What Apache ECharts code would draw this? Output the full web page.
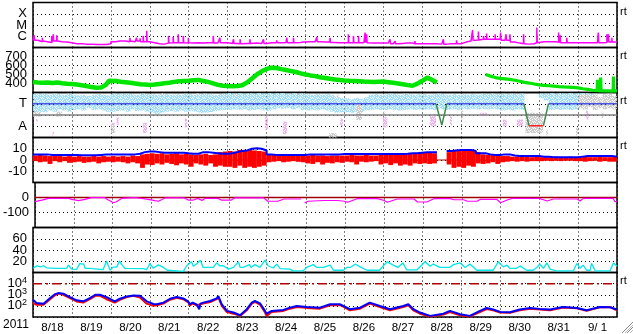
<!DOCTYPE html>
<html><head><meta charset="utf-8">
<script src="https://cdn.jsdelivr.net/npm/echarts@6/dist/echarts.min.js"></script>
<style>html,body{margin:0;padding:0;background:#fff}#c{width:633px;height:334px}</style>
</head><body><div id="c"></div>
<script>
// ---------- DATA (time in days since 2011-08-18 00:00) ----------
const dayLabels = ['8/18','8/19','8/20','8/21','8/22','8/23','8/24','8/25','8/26','8/27','8/28','8/29','8/30','8/31','9/ 1'];
const yearLabel = '2011';

// X-ray flux (log10 W/m2), 3-hour baseline + short flares
const xrayBase = [
-6.36,-6.49,-6.43,-6.55,-6.43,-6.49,-6.52,-6.58,
-6.67,-6.67,-6.7,-6.7,-6.73,-6.73,-6.73,-6.67,
-6.49,-6.43,-6.43,-6.49,-6.43,-6.43,-6.49,-6.49,
-6.58,-6.67,-6.7,-6.61,-6.58,-6.58,-6.58,-6.61,
-6.58,-6.58,-6.61,-6.58,-6.58,-6.61,-6.58,-6.58,
-6.64,-6.64,-6.67,-6.64,-6.64,-6.61,-6.64,-6.64,
-6.58,-6.58,-6.58,-6.55,-6.58,-6.58,-6.55,-6.52,
-6.49,-6.49,-6.49,-6.52,-6.52,-6.55,-6.58,-6.58,
-6.58,-6.58,-6.58,-6.58,-6.58,-6.61,-6.61,-6.61,
-6.61,-6.67,-6.67,-6.64,-6.61,-6.61,-6.67,-6.67,
-6.67,-6.67,-6.67,-6.7,-6.7,-6.67,-6.67,-6.67,
-6.52,-6.43,-6.36,-6.34,-6.27,-6.27,-6.27,-6.27,
-6.36,-6.36,-6.52,-6.61,-6.67,-6.7,-6.67,-6.58,
-6.49,-6.49,-6.49,-6.52,-6.58,-6.58,-6.58,-6.58,
-6.58,-6.58,-6.58,-6.58,-6.58,-6.55,-6.52,-6.52];
const xrayFlares = [
[0.03,-5.91],[0.24,-6.13],[0.48,-5.97],[0.52,-5.82],[0.61,-5.91],[2.23,-6.27],[2.49,-6.13],[2.66,-6.13],
[2.75,-6.18],[2.83,-5.97],[2.92,-5.52],[3.48,-5.97],[3.6,-6.06],[3.73,-5.82],[3.86,-5.97],[3.99,-6.13],
[4.63,-5.97],[4.8,-6.13],[5.15,-6.27],[5.32,-6.27],[5.57,-6.27],[5.92,-6.27],[6.26,-6.36],[6.52,-6.13],
[6.69,-6.13],[6.94,-6.43],[7.29,-6.06],[7.63,-6.13],[8.1,-5.82],[8.23,-5.97],[8.36,-5.97],[8.53,-5.67],
[8.57,-5.82],[9.17,-6.27],[9.3,-6.43],[9.81,-6.43],[10.54,-6.27],[10.88,-6.36],[11.29,-5.45],[11.44,-5.58],
[11.57,-5.97],[11.65,-5.76],[11.87,-5.82],[12.01,-5.67],[12.15,-5.82],[12.25,-5.82],[12.6,-5.82],[12.94,-5.22],
[13.5,-5.67],[13.54,-5.91],[13.71,-6.13],[14.52,-5.67],[14.74,-5.82],[14.78,-5.82],[14.87,-6.13]];

// Solar wind speed (km/s)
const windSpeed = [
[0,417],[0.125,412],[0.25,408],[0.375,412],[0.5,405],[0.625,410],[0.75,402],[0.875,398],[1.0,395],[1.125,388],
[1.25,380],[1.375,372],[1.5,360],[1.625,352],[1.75,356],[1.875,385],[1.95,430],[2.0,440],[2.125,428],[2.25,420],
[2.375,415],[2.5,408],[2.625,400],[2.75,392],[2.875,388],[3.0,383],[3.125,388],[3.25,395],[3.375,402],[3.5,409],
[3.625,418],[3.75,425],[3.875,428],[4.0,431],[4.125,436],[4.25,440],[4.375,428],[4.5,418],[4.625,402],[4.75,385],
[4.875,375],[5.0,372],[5.125,370],[5.25,372],[5.375,380],[5.5,412],[5.625,455],[5.75,500],[5.875,535],[6.0,562],
[6.125,575],[6.25,572],[6.375,560],[6.5,550],[6.625,538],[6.75,528],[6.875,512],[7.0,500],[7.125,490],[7.25,482],
[7.375,470],[7.5,462],[7.625,452],[7.75,445],[7.875,438],[8.0,433],[8.125,430],[8.25,428],[8.375,425],[8.5,422],
[8.625,420],[8.75,418],[8.875,420],[9.0,422],[9.125,415],[9.25,408],[9.375,400],[9.5,392],[9.625,382],[9.75,375],
[9.875,398],[10.0,430],[10.125,465],[10.25,440],[10.375,412],[10.4,null],
[11.625,500],[11.75,482],[11.875,466],[12.0,457],[12.125,452],[12.25,445],[12.375,436],[12.5,425],[12.625,412],
[12.75,405],[12.875,395],[13.0,385],[13.125,380],[13.25,375],[13.375,370],[13.5,365],[13.625,362],[13.75,360],
[13.875,356],[14.0,352],[14.125,342],[14.25,335],[14.375,325],[14.49,320],[14.5,440],[14.51,320],[14.57,318],
[14.58,465],[14.59,318],[14.75,318],[14.9,316],[14.91,476],[14.92,316],[15,318]];

// IMF sector: toward (light blue), ambiguous (grey), away (pink) ranges per 3 h
const towardHi = [
3.9,3.85,3.9,3.8,3.9,3.85,3.8,3.9, 3.8,3.75,3.8,3.7,3.8,3.85,3.8,3.75,
3.9,3.85,3.9,3.9,3.85,3.8,3.9,3.85, 3.85,3.8,3.85,3.85,3.8,3.85,3.8,3.9,
3.85,3.8,3.85,3.9,3.85,3.8,3.85,3.9, 3.95,3.9,3.95,3.9,3.95,3.9,3.95,3.9,
3.95,3.9,3.95,3.95,3.9,3.95,3.9,3.95, 3.85,3.8,3.85,3.8,3.85,3.8,3.6,3.5,
3.5,3.4,3.5,3.45,3.6,3.8,3.85,3.8, 3.85,3.9,3.85,3.8,3.9,3.85,3.8,3.85,
3.85,3.8,3.85,3.9,3.85,3.8,3.85,3.8, 3.85,3.8,3.85,3.8,3.9,3.85,3.9,3.85,
3.9,3.85,3.9,3.85,3.9,null,null,null, 3.9,3.9,3.95,3.9,3.95,3.9,3.95,3.9,
3.95,3.95,3.9,null,null,null,null,null];
const towardLo = [
2.2,2.3,2.25,2.4,2.3,2.5,2.4,2.3, 2.45,2.5,2.4,2.6,2.45,2.5,2.4,2.3,
2.3,2.35,2.4,2.3,2.5,2.35,2.4,2.3, 2.2,2.1,2.2,2.3,2.35,2.3,2.4,2.3,
2.35,2.3,2.2,2.2,2.25,2.35,2.4,2.45, 2.45,2.5,2.45,2.5,2.4,2.45,2.5,2.4,
2.35,2.5,2.6,2.55,2.6,2.5,2.6,2.45, 2.4,2.45,2.4,2.5,2.4,2.3,2.2,2.25,
2.25,2.2,2.3,2.25,2.4,2.45,2.5,2.45, 2.45,2.5,2.45,2.4,2.45,2.5,2.45,2.5,
2.45,2.5,2.45,2.55,2.5,2.45,2.5,2.45, 2.55,2.5,2.55,2.5,2.55,2.5,2.55,2.5,
2.4,2.45,2.4,2.5,2.45,null,null,null, 3.5,3.3,2.45,2.5,2.45,2.5,2.45,2.5,
3.4,3.5,3.6,null,null,null,null,null];
const greyBlobs = [ // [t0, t1, lo, hi]
[0.0,0.2,1.85,2.3],[0.6,0.75,1.85,2.3],[2.0,2.1,0.4,1.3],[3.3,3.34,3.7,3.95],[4.2,4.25,3.8,3.95],[5.2,5.25,3.7,3.9],
[6.75,6.8,3.8,3.95],[7.6,7.8,0.0,0.4],[7.8,7.85,3.55,3.85],[8.3,8.45,1.55,3.07],[9.0,9.05,1.9,2.3],[9.6,9.65,3.75,3.9],
[11.0,11.05,1.6,2.4],[12.65,13.1,0.4,2.2],[13.18,13.23,0.2,0.67],[13.95,14.0,0.2,0.95],
[14.0,14.125,2.6,3.8],[14.125,14.25,2.5,3.9],[14.25,14.375,2.7,3.7],[14.375,14.5,2.45,3.9],[14.5,14.625,2.6,3.6],
[14.625,14.75,2.5,3.85],[14.75,14.875,2.6,3.9],[14.875,15,2.5,3.7],[14.2,14.25,1.8,2.4],[14.6,14.65,1.75,2.3]];
const awayBlobs = [ // [t0, t1, lo, hi]
[0.08,0.12,1.4,1.7],[0.5,0.54,0.2,0.5],[2.0,2.05,1.0,1.3],[2.15,2.2,1.1,1.8],[2.83,2.93,0.4,1.3],[3.9,3.96,0.9,1.7],
[5.96,6.03,0.7,1.9],[6.42,6.52,0.3,1.4],[7.89,7.96,1.0,1.7],[8.99,9.1,0.9,1.8],[10.2,10.35,1.0,2.0],[10.71,10.76,1.1,1.9],
[11.48,11.66,1.9,2.2],[12.07,12.17,1.0,1.6],[12.43,12.59,1.0,1.6],[14.22,14.27,1.6,2.2]];
const sectorToward = [[0,3],[10.35,3],null,[10.63,3],[12.61,3],null,[13.24,3],[15,3]];
const sectorSwitch = [[10.35,3],[10.5,1.1],[10.63,3],null,[12.61,3],[12.74,1.05],null,[13.11,1.05],[13.24,3]];
const sectorAway = [[12.74,1.05],[13.11,1.05]];
const sectorMid = [[0,2],[15,2]];

// IMF Bt (nT) and Bz range (nT), 3-hour steps
const bt = [
5,5,5,4.5,4.5,4.5,4.5,4.5, 4.5,4.2,4.2,4.2,4.2,4.5,4.8,5, 5,4.8,4.8,5,5,5.5,7,7.5,
7.5,7,6.5,6.5,6.5,6.5,6.5,6, 5.6,5.6,7,7,6.5,6,5.5,5.5, 6,7,8,8.5,10,10.5,10,8.5,
5,4.5,4.5,4.5,4.5,4.5,4.5,4.5, 5,5,5,5,5,5,5,5.3, 5.3,5.3,5.3,5.3,5.3,5.3,5.3,5.3,
5.3,5.3,5.3,5.3,5.5,6,6,6.5, 7,7,7,null,null,8,8.5,9, 9,9,8,6,6,5,4.5,4.5,
5,5,4,3.5,3.5,3.5,3.5,3.5, 3,3,2.5,2.5,2.5,2.5,2.5,2.5, 3,3.5,3.5,3.5,3.5,3.5,3.5,3];
const bzHi = [
4,4.5,4,3.5,4,3.5,3,3.5, 3,3.5,3,3,3.5,3,3.5,3, 3.5,3,3.5,3,4,3.5,5,5.5,
6,5.5,6,5,5.5,6,5,5.5, 5,4.5,5,5.5,4.5,5,7,7.5, 8,7.5,9,8,9,8.5,8,7.5,
5,4.5,4,4.5,4,4,4.5,4, 4,4.5,4,4,3.5,4,4,4, 4,4.5,4,4,4.5,4,4,4.5,
5,5.5,5,5.5,5,6,6,6.5, 6.5,7,6,null,null,7,8,8.5, 8.5,8,8,7,5,4.5,4.5,4,
3.5,3.5,3,3,3,3,2.5,3, 2.5,2.5,2.5,3,2.5,2.5,3,2.5, 2.5,3,2.5,2.5,3,2.5,2.5,3];
const bzLo = [
-1,-2,-1.5,-3.5,-1,-2,-1,-2.5, -2,-1.5,-2.5,-2,-1.5,-3,-2,-1.5, -2,-1.5,-2,-3,-2,-3,-7,-4,
-4.5,-3,-4,-2.5,-3.5,-4.7,-3,-4, -6,-3,-4,-5,-3,-6,-5,-6, -6,-7,-5,-7,-6,-7,-6,-5,
-2,-1.5,-1,-2,-1.5,-1,-1.6,-2, -3,-3.5,-2,-4,-2.5,-3,-2,-2.5, -1.5,-2,-4,-1.5,-2,-1.5,-1,-4,
-3,-4.5,-3,-5,-4,-5,-3,-3.5, -3,-3.5,-3,null,null,-4,-7,-6, -7,-5,-6,-3,-3.5,-3,-2,-3.5,
-2,-1.5,-1,-1.5,-1,-1.5,-1,-1, -1,-0.5,-1,-0.5,-1,-0.5,-0.5,-1, -1,-1.5,-1,-0.5,-1.5,-1,-1.5,-1.5];

// Dst index (nT)
const dst = [
[0,-28],[0.18,-17],[0.35,-6],[0.87,-6],[0.95,-12],[1.12,-21],[1.29,-12],[1.46,-1],[1.8,-1],[1.89,-17],[2.02,-35],
[2.1,-28],[2.23,-6],[2.57,-1],[2.75,-6],[2.92,-12],[3.09,-21],[3.18,-25],[3.26,-15],[3.35,-3],[3.85,-3],[3.95,-17],
[4.08,-17],[4.2,-6],[4.3,-20],[4.38,-6],[4.72,-6],[4.8,-17],[5.06,-17],[5.14,-3],[5.9,-3],[6.0,-25],[6.26,-25],
[6.42,-10],[6.86,-10],[6.9,null],[6.95,-37],[7.03,-25],[7.45,-20],[7.8,-20],[7.97,-25],[8.06,-32],[8.3,-8],[8.83,-8],
[9.0,-20],[9.08,-32],[9.34,-10],[9.77,-10],[9.86,-30],[10.1,-30],[10.28,-8],[10.7,-8],[10.8,-15],[11.05,-15],
[11.14,-25],[11.4,-25],[11.48,-12],[11.9,-12],[12.0,-35],[12.17,-17],[12.3,-6],[13.0,-6],[13.2,-23],[13.36,-10],
[13.97,-10],[14.05,-23],[14.13,-6],[14.9,-6],[14.95,-28],[15,-28]];

// Activity index (panel 6)
const activity = [
[0,7.5],[0.1,11.7],[0.2,10],[0.27,12],[0.35,8.4],[0.6,7.5],[0.87,7.5],[0.91,13.5],[0.99,6],[1.12,5.4],[1.2,15.8],
[1.3,15],[1.34,7.5],[1.46,7.5],[1.5,5],[1.8,5],[1.89,20.6],[1.98,4],[2.06,9.5],[2.15,9.5],[2.22,20.6],[2.28,14],
[2.36,7.5],[2.4,6.8],[2.84,6.8],[2.92,5],[3.0,16],[3.09,7.5],[3.22,13.5],[3.35,9],[3.45,4],[3.86,2],[3.95,12],
[4.07,19],[4.12,11],[4.2,15],[4.3,22],[4.37,9],[4.63,9],[4.72,17],[4.8,12],[4.89,12],[4.93,15],[5.02,6],[5.15,9],
[5.28,19],[5.32,9],[5.4,9],[5.56,14],[5.6,9],[5.7,14],[5.83,9],[5.96,22],[6.04,12],[6.17,8],[6.26,15],[6.35,7],
[6.6,6],[6.68,3],[6.94,3],[7.03,9],[7.2,14],[7.29,9],[7.46,9],[7.63,13],[7.72,4],[7.97,4],[8.06,9],[8.15,9],
[8.28,15],[8.4,10],[8.58,4],[8.9,4],[9.0,12],[9.1,19],[9.23,14],[9.37,9],[9.5,17],[9.6,4.5],[9.86,4.5],[9.98,13],
[10.07,19],[10.2,11],[10.28,15],[10.45,9],[10.7,9],[10.8,14],[10.97,17],[11.1,9],[11.22,15],[11.4,4],[11.82,4],
[11.86,7.5],[11.95,19],[12.0,16],[12.08,10],[12.17,13],[12.25,7.5],[12.42,7.5],[12.51,11.7],[12.68,4],[12.85,4],
[12.94,9],[13.02,15],[13.11,7.5],[13.2,17],[13.28,6],[13.45,3],[13.88,3],[13.97,16],[14.05,7.5],[14.13,13],
[14.22,4],[14.31,4],[14.35,16],[14.44,3],[14.82,3],[14.91,17],[15,11]];

// Electron flux (log10), two satellites
const fluxBlue = [
[0,2.56],[0.09,2.26],[0.27,2.2],[0.44,2.7],[0.57,3.06],[0.65,3.15],[0.78,3.1],[0.95,2.79],[1.12,2.5],[1.29,2.41],
[1.46,2.7],[1.6,3.0],[1.72,3.0],[1.89,2.79],[2.1,2.41],[2.23,2.64],[2.41,2.85],[2.58,2.94],[2.75,2.91],[2.92,2.41],
[3.09,2.17],[3.18,2.14],[3.35,2.29],[3.52,2.64],[3.69,2.79],[3.86,2.67],[3.99,2.38],[4.03,2.14],[4.1,2.3],[4.2,2.14],
[4.27,1.7],[4.3,2.2],[4.37,2.29],[4.55,2.44],[4.72,2.67],[4.76,2.88],[4.85,2.14],[4.98,1.55],[5.15,1.4],[5.32,1.16],
[5.49,1.7],[5.62,2.29],[5.7,2.44],[5.83,2.23],[5.96,1.55],[6.0,1.3],[6.13,1.55],[6.43,1.64],[6.6,1.84],[6.77,1.99],
[7.03,1.9],[7.37,1.84],[7.63,2.14],[7.89,2.14],[8.14,1.7],[8.4,1.84],[8.65,2.29],[8.91,1.99],[9.17,1.7],[9.51,1.99],
[9.64,2.14],[9.77,1.7],[9.94,1.4],[10.2,1.1],[10.54,1.3],[10.71,1.55],[10.97,1.25],[11.22,1.1],[11.48,1.55],
[11.65,1.81],[11.82,1.67],[12.0,1.46],[12.25,1.43],[12.5,1.67],[12.77,1.81],[13.02,1.73],[13.28,1.67],[13.62,1.9],
[13.97,1.81],[14.22,1.61],[14.56,1.9],[14.82,1.87],[15,1.67]];
const fluxRed = [
[0,2.26],[0.09,2.1],[0.27,2.1],[0.44,2.6],[0.57,2.98],[0.65,3.1],[0.78,3.0],[0.95,2.7],[1.12,2.4],[1.29,2.3],
[1.46,2.6],[1.6,2.9],[1.72,2.92],[1.89,2.6],[2.1,2.3],[2.23,2.55],[2.41,2.8],[2.58,2.9],[2.75,2.75],[2.92,2.2],
[3.09,2.0],[3.18,2.05],[3.35,2.2],[3.52,2.55],[3.69,2.72],[3.86,2.6],[3.99,2.3],[4.03,2.05],[4.1,2.2],[4.2,2.05],
[4.37,2.2],[4.55,2.35],[4.72,2.6],[4.76,2.78],[4.85,2.0],[4.98,1.45],[5.15,1.3],[5.32,1.1],[5.49,1.6],[5.62,2.2],
[5.7,2.35],[5.83,2.12],[5.96,1.4],[6.0,1.1],[6.13,1.45],[6.43,1.55],[6.6,1.75],[6.77,1.9],[7.03,1.82],[7.37,1.75],
[7.63,2.05],[7.89,2.08],[8.14,1.6],[8.4,1.75],[8.65,2.2],[8.91,1.9],[9.17,1.6],[9.51,1.9],[9.64,2.06],[9.77,1.6],
[9.94,1.3],[10.2,1.05],[10.54,1.22],[10.71,1.45],[10.97,1.15],[11.22,1.05],[11.48,1.45],[11.65,1.72],[11.82,1.6],
[12.0,1.4],[12.25,1.38],[12.5,1.6],[12.77,1.75],[13.02,1.68],[13.28,1.6],[13.62,1.85],[13.97,1.78],[14.22,1.55],
[14.56,1.88],[14.82,1.9],[15,1.6]];
const fluxAlert = 4;

// ---------- CHART ----------
const FONT = 'Liberation Sans';
const BIN = 0.125;
const chart = echarts.init(document.getElementById('c'), null, {renderer:'canvas'});

// speckle texture used to fill the sector-polarity scatter areas
const SPECKLE = ['110111','011101','101110','111011','010111','101101'];
function speckle(color) {
  const c = document.createElement('canvas'); c.width = 6; c.height = 6;
  const g = c.getContext('2d'); g.fillStyle = color;
  SPECKLE.forEach((row, y) => row.split('').forEach((b, x) => { if (b === '1') g.fillRect(x, y, 1, 1); }));
  return {image:c, repeat:'repeat'};
}

const grids = [], xAxes = [], yAxes = [];
for (let i = 0; i < 7; i++) {
  grids.push({left:33, width:584, top:2.5 + 45*i, height:45, show:true, borderColor:'#000', borderWidth:1.5, backgroundColor:'transparent'});
  xAxes.push({gridIndex:i, type:'value', position:'top', min:0, max:15, interval:1,
    axisLine:{show:false}, axisTick:{show:false}, axisLabel:{show:false},
    splitLine:{show:true, lineStyle:{type:[1,3], color:'#000', width:1}}});
}
xAxes.push({gridIndex:6, type:'value', position:'bottom', min:0, max:15, interval:0.5,
  axisLine:{show:false}, axisTick:{show:false}, splitLine:{show:false},
  axisLabel:{show:true, margin:5, color:'#000', fontFamily:FONT, fontSize:11.5,
    formatter:v => (Math.round(v*2) % 2 === 1) ? dayLabels[Math.floor(v)] : ''}});

function yAx(i, min, max, interval, fmt) {
  return {gridIndex:i, type:'value', min, max, interval,
    axisLine:{show:false}, axisTick:{show:false},
    splitLine:{show:true, lineStyle:{type:[1,3], color:'#000', width:1}},
    axisLabel:{color:'#000', fontFamily:FONT, fontSize:13, margin:6, formatter:fmt}};
}
const xrLetters = {'-4':'X','-5':'M','-6':'C'};
yAxes.push(yAx(0, -7, -3, 1, v => xrLetters[String(v)] || ''));
yAxes.push(yAx(1, 300, 800, 100, v => (v > 300 && v < 800) ? String(v) : ''));
yAxes.push(yAx(2, 0, 4, 1, v => v === 3 ? 'T' : (v === 1 ? 'A' : '')));
yAxes.push(yAx(3, -20, 20, 10, v => (v > -20 && v < 20) ? String(v) : ''));
yAxes.push(yAx(4, -200, 100, 100, v => (v === 0 || v === -100) ? String(v) : ''));
yAxes.push(yAx(5, 0, 80, 20, v => (v > 0 && v < 80) ? String(v) : ''));
const y7 = yAx(6, 1, 5, 1, v => (v >= 2 && v <= 4) ? '{b|10}{s|' + v + '}' : '');
y7.axisLabel.rich = {b:{fontFamily:FONT, fontSize:13, color:'#000'}, s:{fontFamily:FONT, fontSize:9, color:'#000', verticalAlign:'top', padding:[0,0,7,0]}};
yAxes.push(y7);

function rangeSeries(gi, data, fill, z) {
  return {type:'custom', xAxisIndex:gi, yAxisIndex:gi, z, silent:true, data,
    encode:{x:[0,1], y:[2,3]},
    renderItem:(params, api) => {
      const p0 = api.coord([api.value(0), api.value(3)]);
      const p1 = api.coord([api.value(1), api.value(2)]);
      return {type:'rect', shape:{x:p0[0], y:p0[1], width:Math.max(p1[0]-p0[0], 1), height:Math.max(p1[1]-p0[1], 1)}, style:{fill}};
    }};
}
function binned(lo, hi) {
  const out = [];
  for (let i = 0; i < lo.length; i++) if (lo[i] != null && hi[i] != null) out.push([i*BIN, (i+1)*BIN, lo[i], hi[i]]);
  return out;
}
function stepPts(arr) { const o = arr.map((v,i) => [i*BIN, v]); o.push([15, arr[arr.length-1]]); return o; }
function line(gi, data, color, width, extra) {
  return Object.assign({type:'line', xAxisIndex:gi, yAxisIndex:gi, data, showSymbol:false, symbol:'none',
    connectNulls:false, silent:true, lineStyle:{color, width}}, extra||{});
}

// X-ray: merge baseline and flares
const xr = xrayBase.map((v,i) => [i*BIN, v]);
xrayFlares.forEach(([t,v]) => { const b = xrayBase[Math.min(xrayBase.length-1, Math.floor(t/BIN))]; xr.push([t, v]); xr.push([t+0.012, b]); });
xr.push([15, xrayBase[xrayBase.length-1]]);
xr.sort((a,b) => a[0]-b[0]);

const windEarly = windSpeed.filter(p => p[0] <= 10.4);
const windLate = windSpeed.filter(p => p[0] > 10.4);

const series = [
  line(0, xr, '#ff00ff', 1.5, {step:'end'}),
  line(1, windEarly, '#00e600', 4.5),
  line(1, windLate, '#00e600', 3.2),
  rangeSeries(2, binned(towardLo, towardHi), speckle('#9edffc'), 1),
  rangeSeries(2, greyBlobs, speckle('#cccccc'), 1),
  rangeSeries(2, awayBlobs, speckle('#f2b0f2'), 1),
  line(2, sectorMid, '#808080', 1.5, {z:3}),
  line(2, sectorToward, '#4a55e8', 1.5, {z:3}),
  line(2, sectorSwitch, '#3f8a4a', 1.5, {z:3}),
  line(2, sectorAway, '#ff2020', 1.5, {z:3}),
  line(3, [[0,0],[15,0]], '#b00000', 1, {z:2}),
  rangeSeries(3, binned(bzLo, bzHi), '#ff0000', 3),
  line(3, stepPts(bt), '#0000ff', 2, {step:'end', z:4}),
  line(4, [[0,0],[15,0]], '#a00000', 1.5),
  line(4, dst, '#ff00ff', 1.2, {z:3}),
  line(5, activity, '#00e8e8', 1.3),
  line(6, [[0,fluxAlert],[15,fluxAlert]], '#b00000', 1.5, {lineStyle:{color:'#b00000', width:1.5, type:[9,4,2,4]}}),
  line(6, fluxRed, '#ff0000', 2),
  line(6, fluxBlue, '#0000ff', 2, {z:3})
];

const graphics = [
  {type:'text', left:3, top:319, style:{text:yearLabel, font:'12px ' + FONT, fill:'#000'}}
];
[6, 50, 95, 140, 275].forEach(t => graphics.push({type:'text', left:620, top:t, style:{text:'rt', font:'11px ' + FONT, fill:'#000'}}));
[[622,333,633,322,'#888'],[625,333,633,325,'#bbb'],[627,333,633,327,'#888'],[630,333,633,330,'#bbb']].forEach(s =>
  graphics.push({type:'line', shape:{x1:s[0], y1:s[1], x2:s[2], y2:s[3]}, style:{stroke:s[4], lineWidth:1}}));

chart.setOption({animation:false, grid:grids, xAxis:xAxes, yAxis:yAxes, series, graphic:graphics});
</script></body></html>
